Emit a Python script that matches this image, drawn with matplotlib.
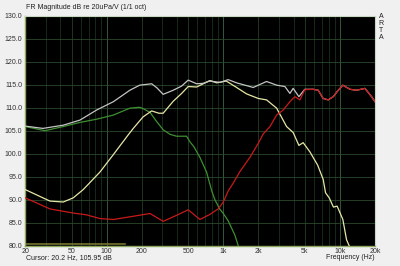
import matplotlib
matplotlib.use("Agg")
import matplotlib.pyplot as plt
import numpy as np

plt.rcParams['font.family'] = ['Liberation Sans', 'DejaVu Sans']

# ---- data (frequency in Hz, level in dB) ----
green_f = [20, 29.5, 42.4, 58.9, 82, 114, 158, 192, 205, 235, 268, 305, 350, 397, 484, 517, 560,
           630, 719, 794, 847, 935, 1000, 1102, 1257, 1343, 1450]
green_db = [105.9, 105.0, 105.9, 106.8, 107.5, 108.4, 109.9, 110.1, 109.8, 109.0, 107.0, 105.2, 104.2,
            103.8, 103.8, 102.6, 101.5, 99.2, 96.0, 92.0, 90.0, 87.9, 87.0, 85.4, 82.3, 80.0, 78.0]

yellow_f = [20, 32.6, 42.4, 51.6, 62.9, 87.4, 114, 153, 169, 205, 243, 280, 305, 372, 439, 500, 590,
            767, 880, 1060, 1300, 1584, 2000, 2350, 2866, 3490, 3975, 4450, 4840, 5530, 6450, 7190,
            7530, 8100, 8800, 9470, 10600, 11400, 12000, 12600]
yellow_db = [92.2, 89.7, 89.5, 90.4, 92.2, 96.0, 99.8, 104.1, 105.5, 108.0, 109.3, 108.8, 108.8, 111.4,
             113.1, 114.6, 114.5, 115.9, 115.4, 115.8, 114.4, 113.0, 112.0, 111.7, 109.9, 105.9, 104.6,
             101.8, 102.4, 100.4, 97.5, 94.4, 91.5, 90.4, 88.4, 88.6, 85.7, 81.3, 80.0, 78.0]

red_f = [20, 32.6, 51.6, 67.3, 87.4, 114, 169, 235, 305, 397, 500, 630, 767, 904, 1000, 1102, 1216,
         1387, 1700, 2000, 2198, 2513, 2866, 3265, 3725, 4110, 4540, 5000, 5900, 6515, 7190, 7940,
         8770, 9470, 10600, 12200, 13900, 16400, 18700, 20000]
red_db = [90.4, 88.0, 87.1, 86.7, 85.9, 85.7, 86.4, 87.0, 85.3, 86.6, 87.8, 85.7, 86.8, 88.0, 89.5,
          91.9, 93.6, 96.1, 99.3, 102.3, 104.3, 105.9, 108.4, 109.5, 111.3, 112.4, 111.7, 113.9, 114.0,
          113.8, 112.0, 111.7, 112.4, 113.5, 114.9, 114.0, 113.8, 114.2, 112.4, 111.3]

white_f = [20, 28.4, 42.4, 58.9, 82, 114, 158, 192, 243, 270, 305, 372, 439, 500, 590, 673, 767, 935,
           1102, 1300, 1584, 1805, 2350, 2866, 3376, 3725, 3975, 4450, 5000, 5900, 6515, 7190, 7940,
           8770, 9470, 10600, 12200, 13900, 16400, 18700, 20000]
white_db = [106.0, 105.5, 106.2, 107.3, 109.5, 111.3, 113.8, 114.9, 115.2, 114.3, 112.9, 113.8, 114.7,
            116.0, 115.2, 115.3, 115.8, 115.5, 116.1, 115.4, 114.8, 114.4, 115.7, 114.9, 114.6, 113.1,
            114.2, 112.4, 114.0, 114.0, 113.8, 112.0, 111.7, 112.4, 113.5, 114.9, 114.0, 113.8, 114.2,
            112.4, 111.3]

marker_f = [20, 143]
marker_db = [80.3, 80.3]

x_ticks = [20, 50, 100, 200, 500, 1000, 2000, 5000, 10000, 20000]
x_labels = ["20", "50", "100", "200", "500", "1k", "2k", "5k", "10k", "20k"]
y_ticks = [80, 85, 90, 95, 100, 105, 110, 115, 120, 125, 130]
y_labels = ["%.1f" % v for v in y_ticks]

fig = plt.figure(figsize=(4, 2.66), dpi=100, facecolor='#f0f0f0')
ax = fig.add_axes([0.063, 0.0763, 0.8745, 0.8647])
ax.set_facecolor('black')
ax.set_xscale('log')
ax.set_xlim(20, 20000)
ax.set_ylim(80, 130)

# grid
minor = []
for dec in [10, 100, 1000, 10000]:
    for m in range(1, 10):
        f = dec * m
        if 20 <= f <= 20000:
            minor.append(f)
for f in minor:
    if f in (100, 1000, 10000):
        c, lw = '#34583a', 0.7
    elif f in x_ticks:
        c, lw = '#253f28', 0.6
    else:
        c, lw = '#1a301c', 0.6
    ax.axvline(f, color=c, lw=lw, zorder=1)
for v in y_ticks:
    ax.axhline(v, color='#2a4a2d', lw=0.6, zorder=1)

ax.plot(marker_f, marker_db, color='#75752e', lw=1.2, zorder=2)
ax.plot(green_f, green_db, color='#3f8f32', lw=0.9, zorder=3)
ax.plot(yellow_f, yellow_db, color='#e6e6a6', lw=0.9, zorder=4)
ax.plot(white_f, white_db, color='#c4c4c4', lw=0.9, zorder=5)
ax.plot(red_f, red_db, color='#c81a1a', lw=0.9, zorder=6)

ax.set_xticks(x_ticks)
ax.set_xticklabels(x_labels)
ax.set_xticks([], minor=True)
ax.set_yticks(y_ticks)
ax.set_yticklabels(y_labels)
ax.tick_params(axis='both', length=0, labelsize=5, colors='#303030', pad=2)

for side in ['left', 'bottom']:
    ax.spines[side].set_color('#8aa860')
    ax.spines[side].set_linewidth(1.0)
for side in ['top', 'right']:
    ax.spines[side].set_color('#c8d8c0')
    ax.spines[side].set_linewidth(0.8)

fig.text(0.065, 0.972, "FR Magnitude dB re 20uPa/V (1/1 oct)", fontsize=5, color='#202020',
         ha='left', va='center')
fig.text(0.065, 0.032, "Cursor: 20.2 Hz, 105.95 dB", fontsize=5, color='#202020',
         ha='left', va='center')
fig.text(0.937, 0.032, "Frequency (Hz)", fontsize=5, color='#202020', ha='right', va='center')
fig.text(0.952, 0.95, "A\nR\nT\nA", fontsize=5, color='#202020', ha='center', va='top',
         linespacing=0.95)

fig.savefig("out.png", dpi=100, facecolor=fig.get_facecolor())
